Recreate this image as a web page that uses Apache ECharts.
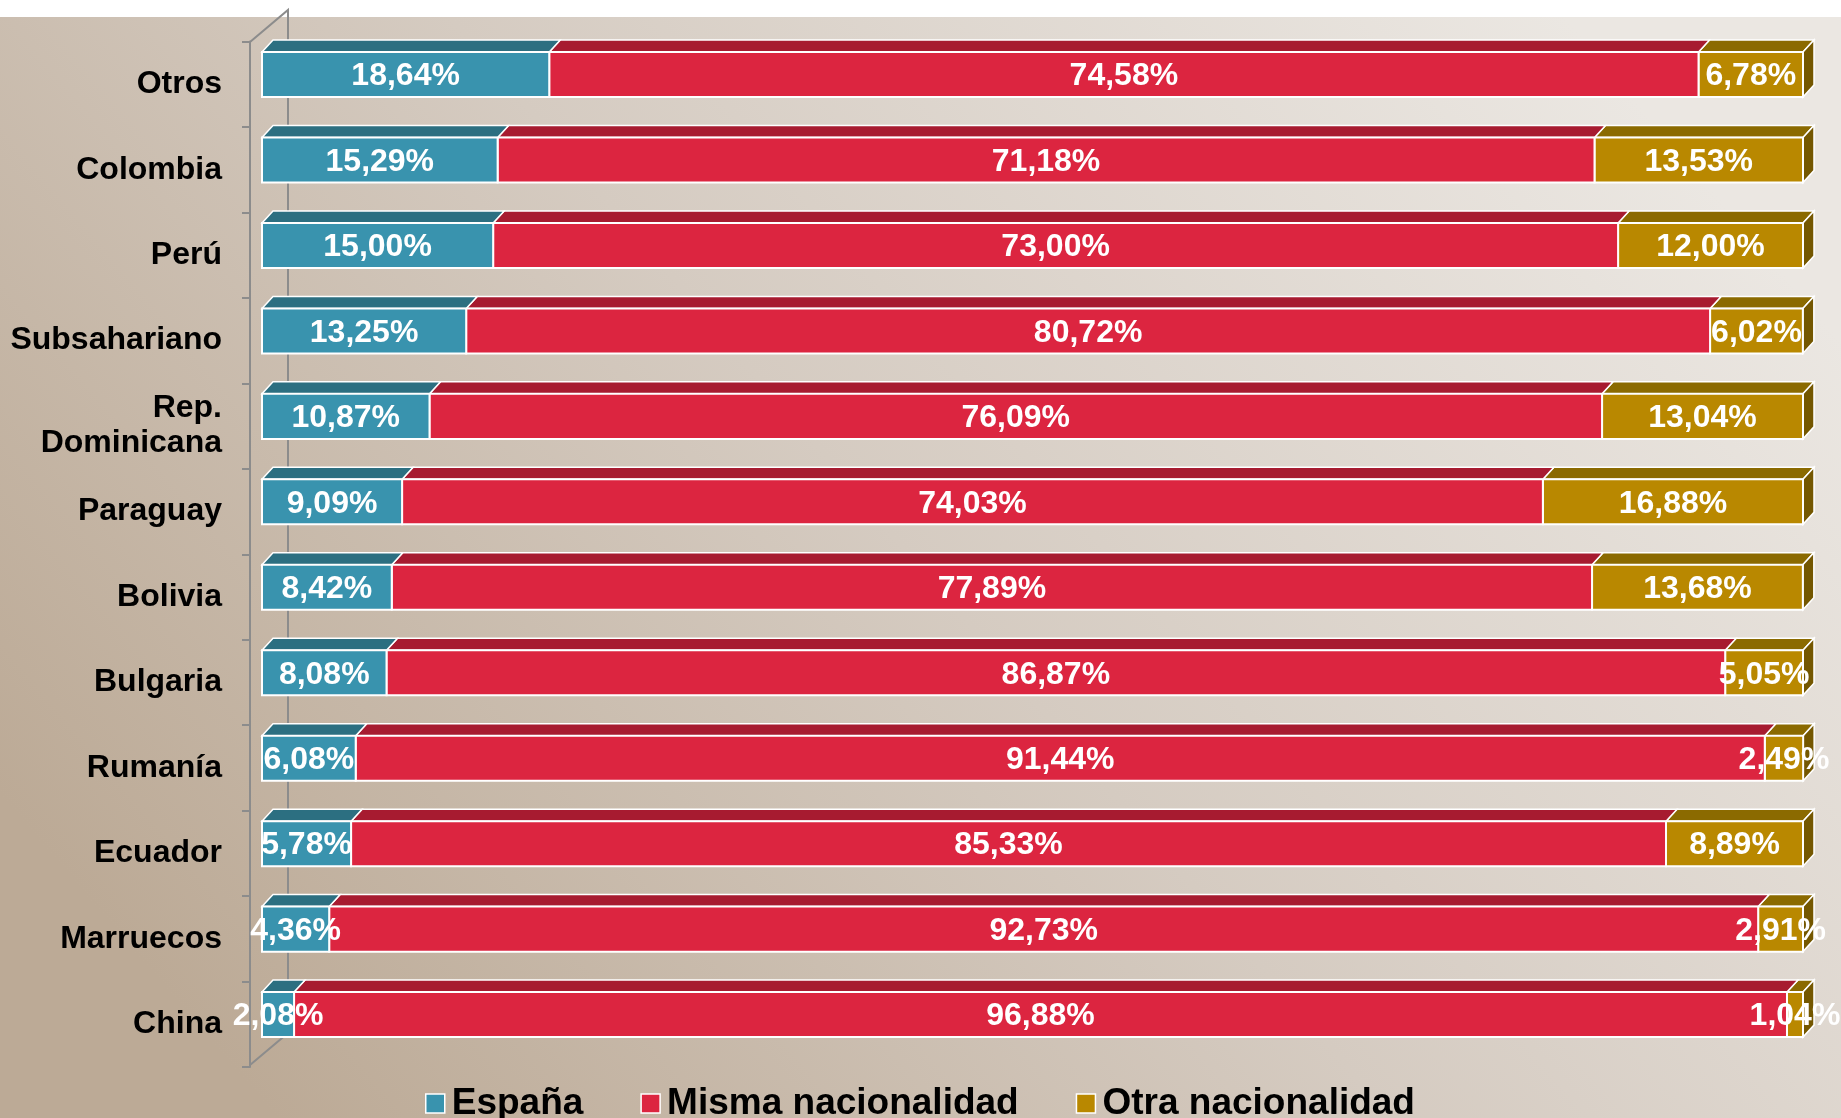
<!DOCTYPE html>
<html>
<head>
<meta charset="utf-8">
<script src="https://cdn.jsdelivr.net/npm/echarts@6/dist/echarts.min.js"></script>
<style>
  html, body { margin: 0; padding: 0; background: #fff; }
  #chart { width: 1841px; height: 1118px; }
</style>
</head>
<body>
<div id="chart"></div>
<script>
const categories = ["Otros", "Colombia", "Perú", "Subsahariano", "Rep.\nDominicana", "Paraguay",
  "Bolivia", "Bulgaria", "Rumanía", "Ecuador", "Marruecos", "China"];
const espana = [18.64, 15.29, 15.00, 13.25, 10.87, 9.09, 8.42, 8.08, 6.08, 5.78, 4.36, 2.08];
const misma = [74.58, 71.18, 73.00, 80.72, 76.09, 74.03, 77.89, 86.87, 91.44, 85.33, 92.73, 96.88];
const otra = [6.78, 13.53, 12.00, 6.02, 13.04, 16.88, 13.68, 5.05, 2.49, 8.89, 2.91, 1.04];
const seriesNames = ["España", "Misma nacionalidad", "Otra nacionalidad"];

const FONT = "'Liberation Sans', Arial, sans-serif";
// front / top / side colours per segment
const colors = [
  { front: "#3993ae", top: "#2c6f81", side: "#24606f" },
  { front: "#dc2540", top: "#a71b30", side: "#8c1527" },
  { front: "#b98800", top: "#8b6a00", side: "#745700" },
];
const DX = 11, DY = 12, BAR_RATIO = 0.527;

const fmt = (v) => v.toFixed(2).replace(".", ",") + "%";

// build [catIdx, start, end, value] rows for each stacked segment
const lists = [espana, misma, otra];
const segData = lists.map((list, k) =>
  list.map((v, i) => {
    let start = 0;
    for (let j = 0; j < k; j++) start += lists[j][i];
    return [i, start, start + v, v];
  })
);
const labelData = [].concat(...segData);

const geom = (api) => {
  const c = api.value(0);
  const p0 = api.coord([api.value(1), c]);
  const p1 = api.coord([api.value(2), c]);
  const h = api.size([0, 1])[1] * BAR_RATIO;
  return { x0: p0[0], x1: p1[0], cy: p0[1], top: p0[1] - h / 2, bottom: p0[1] + h / 2, h };
};

const makeRender = (k) => (params, api) => {
  const g = geom(api);
  const col = colors[k];
  const children = [
    {
      type: "polygon",
      shape: { points: [[g.x0, g.top], [g.x0 + DX, g.top - DY], [g.x1 + DX, g.top - DY], [g.x1, g.top]] },
      style: { fill: col.top, stroke: "#ffffff", lineWidth: 1.5 },
    },
  ];
  if (k === 2) {
    children.push({
      type: "polygon",
      shape: { points: [[g.x1, g.top], [g.x1 + DX, g.top - DY], [g.x1 + DX, g.bottom - DY], [g.x1, g.bottom]] },
      style: { fill: col.side, stroke: "#ffffff", lineWidth: 1.5 },
    });
  }
  children.push({
    type: "rect",
    shape: { x: g.x0, y: g.top, width: g.x1 - g.x0, height: g.h },
    style: { fill: col.front, stroke: "#ffffff", lineWidth: 2 },
  });
  return { type: "group", children };
};

const renderLabel = (params, api) => {
  const g = geom(api);
  return {
    type: "text",
    style: {
      x: (g.x0 + g.x1) / 2,
      y: g.cy + 2,
      text: fmt(api.value(3)),
      fill: "#ffffff",
      font: "bold 32px " + FONT,
      align: "center",
      verticalAlign: "middle",
    },
  };
};

const chart = echarts.init(document.getElementById("chart"));

const series = seriesNames.map((name, k) => ({
  name,
  type: "custom",
  xAxisIndex: 0,
  yAxisIndex: 0,
  itemStyle: { color: colors[k].front },
  encode: { x: [1, 2], y: 0 },
  renderItem: makeRender(k),
  data: segData[k],
  z: 5 + (2 - k),
}));
series.push({
  name: "labels",
  type: "custom",
  xAxisIndex: 0,
  yAxisIndex: 0,
  encode: { x: [1, 2], y: 0 },
  renderItem: renderLabel,
  data: labelData,
  silent: true,
  z: 20,
});

const option = {
  animation: false,
  graphic: [
    {
      type: "rect",
      z: -10,
      silent: true,
      shape: { x: 0, y: 17, width: 1841, height: 1101 },
      style: {
        fill: {
          type: "linear", x: 0.15, y: 1, x2: 0.85, y2: 0,
          colorStops: [
            { offset: 0, color: "#bcaa96" },
            { offset: 0.5, color: "#d5cbc1" },
            { offset: 1, color: "#ebe7e2" },
          ],
        },
      },
    },
    {
      // back wall edges of the 3D category axis
      type: "polyline",
      z: -5,
      silent: true,
      shape: { points: [[250, 42], [288, 10], [288, 1033], [250, 1065]] },
      style: { stroke: "#8c8c8c", lineWidth: 2, fill: null },
    },
  ],
  legend: {
    left: 420,
    top: 1080,
    itemWidth: 19,
    itemHeight: 19,
    itemGap: 57,
    icon: "rect",
    itemStyle: { borderColor: "#ffffff", borderWidth: 1.5 },
    textStyle: { fontSize: 37, fontWeight: "bold", color: "#000", fontFamily: FONT, padding: [0, 0, 0, 2] },
    data: seriesNames,
  },
  grid: [
    { left: 262, right: 38, top: 31.8, bottom: 60.7 },
    { left: 250, right: 38, top: 41.5, bottom: 51 },
  ],
  xAxis: [
    { type: "value", min: 0, max: 100, show: false, gridIndex: 0 },
    { type: "value", min: 0, max: 100, show: false, gridIndex: 1 },
  ],
  yAxis: [
    {
      type: "category",
      gridIndex: 0,
      data: categories,
      inverse: true,
      show: false,
    },
    {
      type: "category",
      gridIndex: 1,
      data: categories,
      inverse: true,
      axisLine: { show: true, lineStyle: { color: "#8c8c8c", width: 2 } },
      axisTick: { show: true, length: 8, lineStyle: { color: "#8c8c8c", width: 2 } },
      axisLabel: {
        margin: 28,
        fontSize: 32,
        fontWeight: "bold",
        color: "#000",
        fontFamily: FONT,
        lineHeight: 35,
        align: "right",
      },
    },
  ],
  series,
};

chart.setOption(option);
</script>
</body>
</html>
